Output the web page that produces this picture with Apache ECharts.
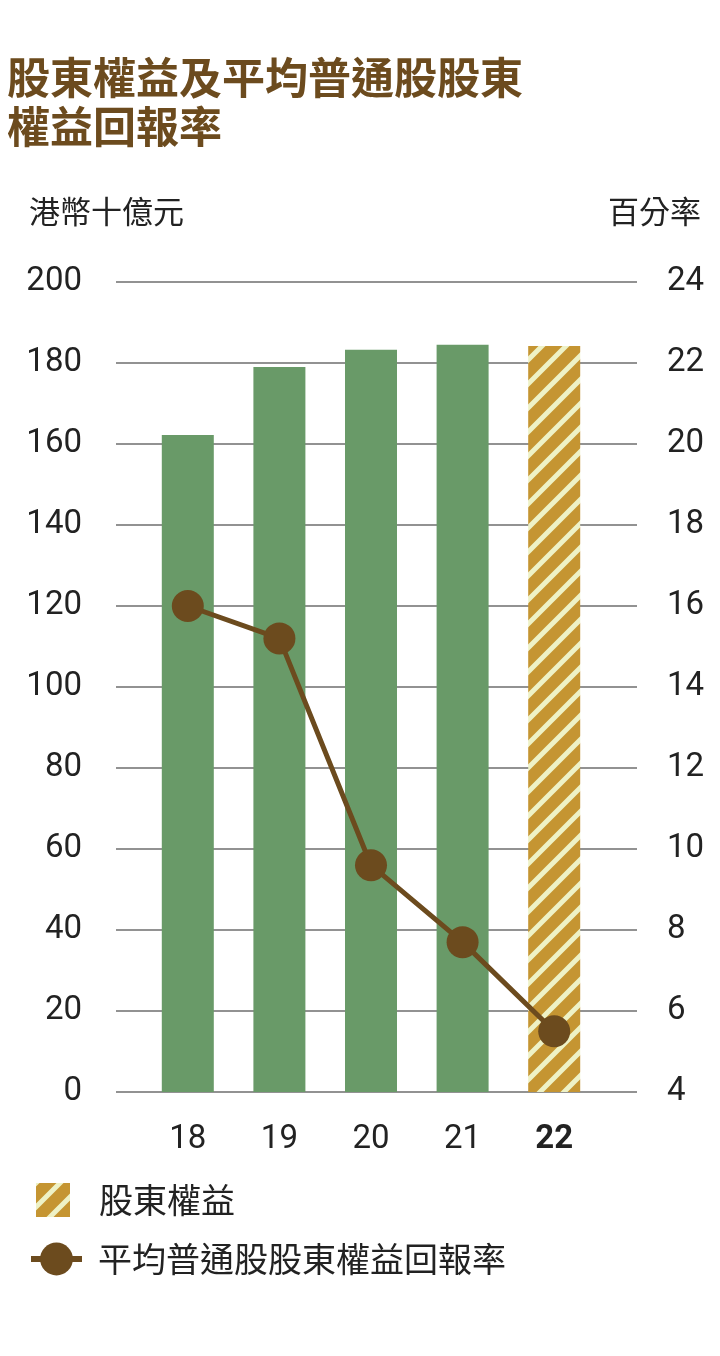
<!DOCTYPE html>
<html>
<head>
<meta charset="utf-8">
<script src="https://cdn.jsdelivr.net/npm/echarts@6/dist/echarts.min.js"></script>
<style>
html,body{margin:0;padding:0;background:#fff;}
#chart{width:720px;height:1356px;}
</style>
</head>
<body>
<div id="chart"></div>
<script>
// ---- data ----
const categories = ['18', '19', '20', '21', '22'];
const equity = [162.2, 179.0, 183.3, 184.5, 184.2];       // HK$ billion (left axis)
const roe = [16.0, 15.2, 9.6, 7.7, 5.5];                  // % (right axis)
const leftTicks = { min: 0, max: 200, interval: 20 };
const rightTicks = { min: 4, max: 24, interval: 2 };
const titleText = '股東權益及平均普通股股東\n權益回報率';
const leftAxisName = '港幣十億元';
const rightAxisName = '百分率';
const seriesNames = ['股東權益', '平均普通股股東權益回報率'];

// ---- styles ----
const GREEN = '#699a68';
const GOLD = '#c59532';
const STRIPE = '#eef2c6';
const BROWN = '#6c4b1e';
const TEXT = '#222222';
const GRIDLINE = '#6e6e6e';
const NUM_FONT = 'Roboto, "Liberation Sans", sans-serif';
const CJK_FONT = '"Noto Sans CJK TC", "Noto Sans CJK SC", sans-serif';

function makePattern() {
  const P = 24;
  const c = document.createElement('canvas');
  c.width = P; c.height = P;
  const g = c.getContext('2d');
  g.fillStyle = GOLD;
  g.fillRect(0, 0, P, P);
  g.strokeStyle = STRIPE;
  g.lineWidth = 5;
  g.beginPath();
  g.moveTo(-P, P); g.lineTo(P, -P);
  g.moveTo(0, P); g.lineTo(P, 0);
  g.moveTo(0, 2 * P); g.lineTo(2 * P, 0);
  g.stroke();
  return { image: c, repeat: 'repeat' };
}
const hatch = makePattern();

const chart = echarts.init(document.getElementById('chart'), null, { renderer: 'canvas' });

const barData = equity.map((v, i) => (i < equity.length - 1
  ? { value: v, itemStyle: { color: GREEN } }
  : { value: v }));

const option = {
  animation: false,
  backgroundColor: '#ffffff',
  title: [
    {
      text: titleText, left: 7, top: 53, padding: 0,
      textStyle: { fontFamily: CJK_FONT, fontSize: 43, lineHeight: 49, fontWeight: 'bold', color: BROWN }
    },
    {
      text: leftAxisName, left: 29, top: 196, padding: 0,
      textStyle: { fontFamily: CJK_FONT, fontSize: 31, lineHeight: 31, fontWeight: 'normal', color: TEXT }
    },
    {
      text: rightAxisName, right: 19, top: 196, padding: 0,
      textStyle: { fontFamily: CJK_FONT, fontSize: 31, lineHeight: 31, fontWeight: 'normal', color: TEXT }
    }
  ],
  grid: [
    { left: 116, right: 83, top: 282, bottom: 264 },
    { left: 142, right: 120, top: 282, bottom: 264 }
  ],
  xAxis: [
    { gridIndex: 0, type: 'category', data: categories, show: false },
    {
      gridIndex: 1, type: 'category', data: categories,
      axisLine: { show: false }, axisTick: { show: false },
      axisLabel: {
        interval: 0, margin: 31, fontFamily: NUM_FONT, fontSize: 33, color: TEXT,
        formatter: (v, i) => (i === categories.length - 1 ? '{b|' + v + '}' : v),
        rich: { b: { fontFamily: NUM_FONT, fontSize: 33, fontWeight: 'bold', color: TEXT } }
      }
    }
  ],
  yAxis: [
    {
      gridIndex: 0, type: 'value', position: 'left',
      min: leftTicks.min, max: leftTicks.max, interval: leftTicks.interval,
      axisLine: { show: false }, axisTick: { show: false },
      axisLabel: { margin: 34, fontFamily: NUM_FONT, fontSize: 33, color: TEXT, padding: [7, 0, 0, 0] },
      splitLine: { show: true, lineStyle: { color: GRIDLINE, width: 1.5 } }
    },
    {
      gridIndex: 0, type: 'value', position: 'right',
      min: rightTicks.min, max: rightTicks.max, interval: rightTicks.interval,
      axisLine: { show: false }, axisTick: { show: false },
      axisLabel: { margin: 30, fontFamily: NUM_FONT, fontSize: 33, color: TEXT, padding: [7, 0, 0, 0] },
      splitLine: { show: false }
    },
    {
      gridIndex: 1, type: 'value', show: false,
      min: leftTicks.min, max: leftTicks.max, interval: leftTicks.interval,
      splitLine: { show: false }
    },
    {
      gridIndex: 1, type: 'value', show: false,
      min: rightTicks.min, max: rightTicks.max, interval: rightTicks.interval,
      splitLine: { show: false }
    }
  ],
  legend: [
    {
      data: [seriesNames[0]], left: 36, top: 1183, padding: 0,
      itemWidth: 34, itemHeight: 34, icon: 'rect',
      textStyle: { fontFamily: CJK_FONT, fontSize: 34, color: TEXT, padding: [0, 0, 0, 24] }
    },
    {
      data: [seriesNames[1]], left: 28, top: 1242, padding: 0,
      itemWidth: 51, itemHeight: 41,
      lineStyle: { width: 6, color: BROWN },
      textStyle: { fontFamily: CJK_FONT, fontSize: 34, color: TEXT, padding: [4, 0, 0, 11] }
    }
  ],
  series: [
    {
      name: seriesNames[0], type: 'bar', xAxisIndex: 1, yAxisIndex: 2,
      barWidth: 52, data: barData,
      itemStyle: { color: hatch }
    },
    {
      name: seriesNames[1], type: 'line', xAxisIndex: 1, yAxisIndex: 3,
      data: roe, symbol: 'circle', symbolSize: 32, z: 5,
      lineStyle: { color: BROWN, width: 5 },
      itemStyle: { color: BROWN }
    }
  ]
};
chart.setOption(option);
</script>
</body>
</html>
